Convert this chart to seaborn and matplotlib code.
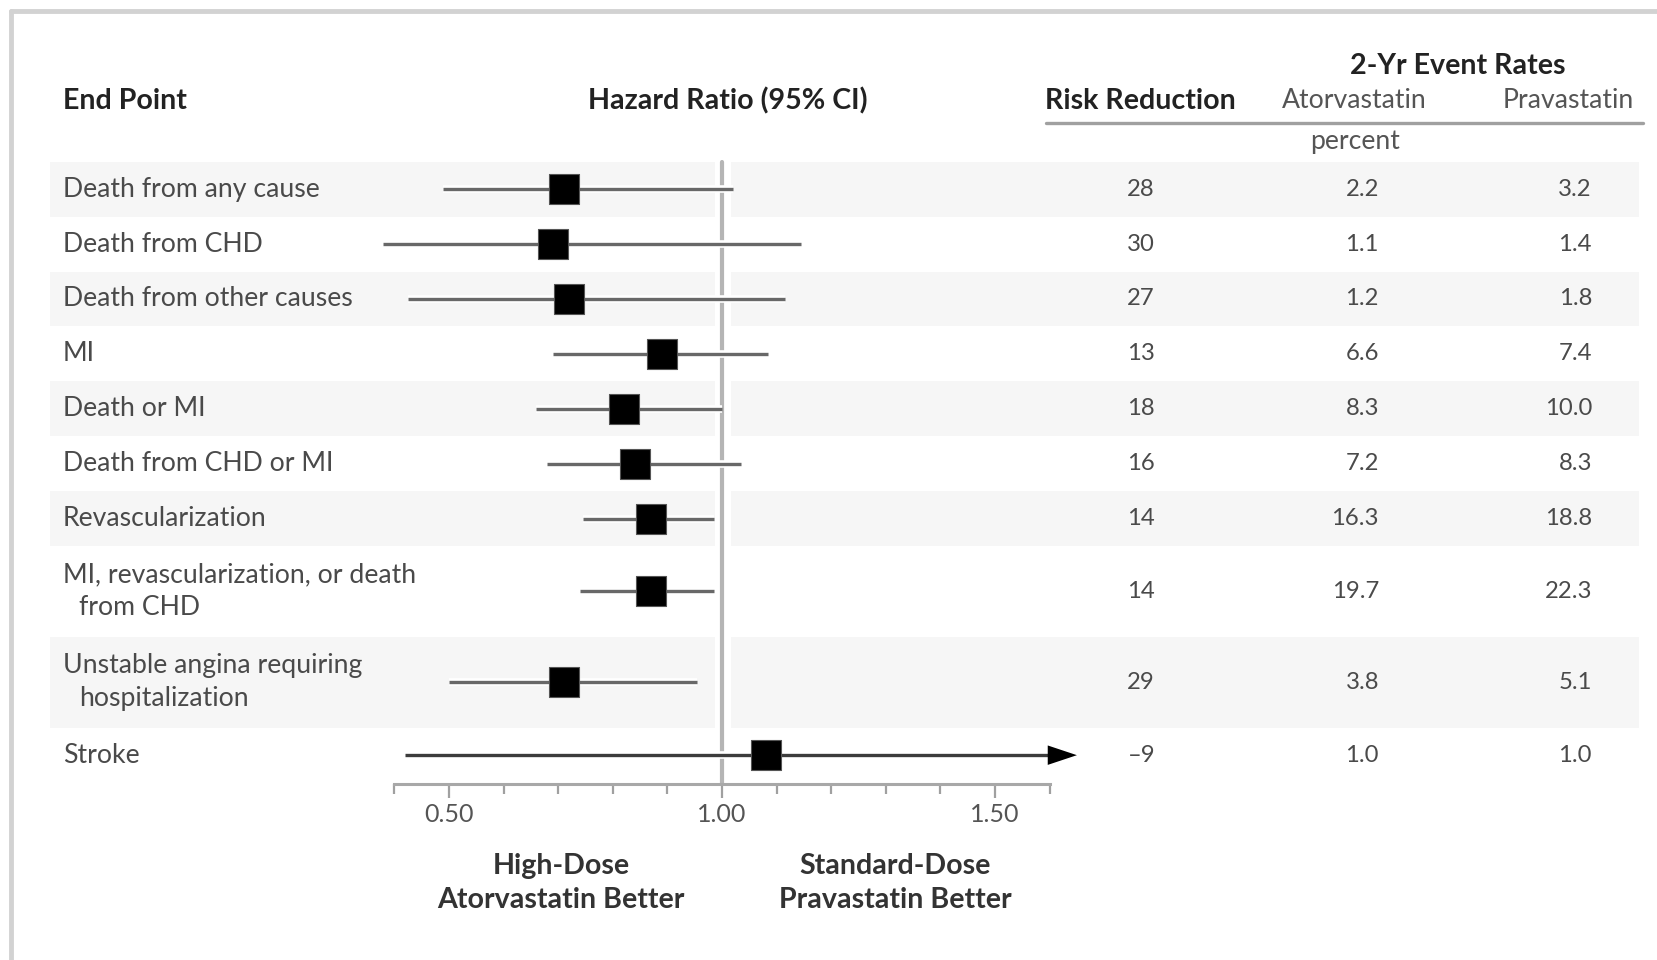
import matplotlib
matplotlib.use("Agg")
import matplotlib.pyplot as plt
import matplotlib.patheffects as pe
from matplotlib.lines import Line2D
from matplotlib.transforms import blended_transform_factory
import numpy as np
import pandas as pd
import seaborn as sns

# ---- data -----------------------------------------------------------------
end_points = [
    "Death from any cause",
    "Death from CHD",
    "Death from other causes",
    "MI",
    "Death or MI",
    "Death from CHD or MI",
    "Revascularization",
    "MI, revascularization, or death\nfrom CHD",
    "Unstable angina requiring\nhospitalization",
    "Stroke",
]
hazard_ratio = [0.71, 0.69, 0.72, 0.89, 0.82, 0.84, 0.87, 0.87, 0.71, 1.08]
ci_lower = [0.49, 0.38, 0.425, 0.69, 0.66, 0.68, 0.745, 0.74, 0.50, 0.42]
ci_upper = [1.02, 1.145, 1.115, 1.085, 1.00, 1.035, 0.985, 0.985, 0.955, 1.65]
risk_reduction = ["28", "30", "27", "13", "18", "16", "14", "14", "29", "\u20139"]
rate_atorvastatin = ["2.2", "1.1", "1.2", "6.6", "8.3", "7.2", "16.3", "19.7", "3.8", "1.0"]
rate_pravastatin = ["3.2", "1.4", "1.8", "7.4", "10.0", "8.3", "18.8", "22.3", "5.1", "1.0"]
row_height = [1, 1, 1, 1, 1, 1, 1, 1.655, 1.655, 1]

# ---- style ----------------------------------------------------------------
sns.set_theme(style="white")
plt.rcParams["font.family"] = ["Lato", "DejaVu Sans"]

W, H = 1657, 960
fig = plt.figure(figsize=(W / 100, H / 100), dpi=100)
fig.patch.set_facecolor("white")

def fx(px):
    return px / W

def fy(px):
    return 1 - px / H

# forest-plot axes (x in hazard-ratio units, y in row units)
ax_left, ax_right, ax_top, ax_bottom = 394.3, 1049.6, 161.7, 784.0
ax = fig.add_axes([fx(ax_left), fy(ax_bottom), fx(ax_right - ax_left), (ax_bottom - ax_top) / H])
ax.set_facecolor("none")

bounds = np.concatenate([[0], np.cumsum(row_height)])
centers = (bounds[:-1] + bounds[1:]) / 2
df = pd.DataFrame({
    "end_point": end_points,
    "hr": hazard_ratio,
    "lo": ci_lower,
    "hi": ci_upper,
    "y": centers,
})

x_min, x_max = 0.4, 1.6
ax.set_xlim(x_min, x_max)
ax.set_ylim(11.335, 0)

# alternating row shading, split around the reference line
def ax_frac(px):
    return (px - ax_left) / (ax_right - ax_left)

for i in range(0, len(end_points), 2):
    for a, b in [(50, 715), (731, 1639)]:
        ax.axhspan(bounds[i], bounds[i + 1], xmin=ax_frac(a), xmax=ax_frac(b),
                   facecolor="#f6f6f6", edgecolor="none", zorder=0, clip_on=False)

# reference line at HR = 1
ax.axvline(1.0, color="#b5b5b5", lw=3.0, zorder=1, clip_on=False)

# confidence intervals
halo = [pe.withStroke(linewidth=5.5, foreground="white")]
inside = df["hi"] <= x_max
ax.hlines(df.loc[inside, "y"], df.loc[inside, "lo"], df.loc[inside, "hi"],
          color="#686868", lw=2.4, zorder=2, path_effects=halo, clip_on=False)
for _, r in df[~inside].iterrows():
    ax.hlines(r["y"], r["lo"], r["hi"] - 0.03, color="#3c3c3c", lw=2.4, zorder=2,
              clip_on=False, path_effects=halo)
    ax.annotate("", xy=(r["hi"], r["y"]), xytext=(r["hi"] - 0.06, r["y"]),
                arrowprops=dict(arrowstyle="-|>,head_length=2.1,head_width=0.7",
                                fc="black", ec="black", lw=0, shrinkA=0, shrinkB=0,
                                mutation_scale=10),
                annotation_clip=False, zorder=3)

# point estimates
sns.scatterplot(data=df, x="hr", y="y", marker="s", s=440, color="black",
                edgecolor="#555555", linewidth=0.8, legend=False, zorder=4, ax=ax)
ax.set_xlabel("")
ax.set_ylabel("")

# x axis
for s in ["top", "right", "left"]:
    ax.spines[s].set_visible(False)
ax.spines["bottom"].set_color("#a8a8a8")
ax.spines["bottom"].set_linewidth(2.2)
ax.set_yticks([])
ax.set_xticks([0.5, 1.0, 1.5])
ax.set_xticklabels(["0.50", "1.00", "1.50"])
ax.set_xticks(np.round(np.arange(0.4, 1.61, 0.1), 2), minor=True)
ax.tick_params(axis="x", which="major", direction="out", length=10, width=1.6,
               color="#a0a0a0", labelsize=18, labelcolor="#555555", pad=4, bottom=True)
ax.tick_params(axis="x", which="minor", direction="out", length=7, width=1.6,
               color="#a0a0a0", bottom=True)

# ---- table text -------------------------------------------------------------
tr = blended_transform_factory(fig.transFigure, ax.transData)
label_color = "#4a4a4a"
fs = 19.2
vfs = 17.2
line_gap = 0.3
for i, label in enumerate(end_points):
    lines = label.split("\n")
    n = len(lines)
    for j, line in enumerate(lines):
        y = centers[i] + (j - (n - 1) / 2) * line_gap * 2
        x = fx(63) if j == 0 else fx(79)
        ax.text(x, y, line, transform=tr, ha="left", va="center",
                fontsize=fs, color=label_color)
    ax.text(fx(1155), centers[i], risk_reduction[i], transform=tr, ha="right",
            va="center", fontsize=vfs, color=label_color)
    ax.text(fx(1379), centers[i], rate_atorvastatin[i], transform=tr, ha="right",
            va="center", fontsize=vfs, color=label_color)
    ax.text(fx(1592), centers[i], rate_pravastatin[i], transform=tr, ha="right",
            va="center", fontsize=vfs, color=label_color)

head_color = "#222222"
hfs = 20.6
fig.text(fx(63), fy(101), "End Point", ha="left", va="center", fontsize=hfs,
         fontweight="bold", color=head_color)
fig.text(fx(728), fy(101), "Hazard Ratio (95% CI)", ha="center", va="center",
         fontsize=hfs, fontweight="bold", color=head_color)
fig.text(fx(1140), fy(101), "Risk Reduction", ha="center", va="center",
         fontsize=hfs, fontweight="bold", color=head_color)
fig.text(fx(1458), fy(66), "2-Yr Event Rates", ha="center", va="center",
         fontsize=hfs, fontweight="bold", color=head_color)
fig.text(fx(1354), fy(101), "Atorvastatin", ha="center", va="center",
         fontsize=fs, color="#555555")
fig.text(fx(1568), fy(101), "Pravastatin", ha="center", va="center",
         fontsize=fs, color="#555555")
fig.text(fx(1355), fy(142), "percent", ha="center", va="center",
         fontsize=fs, color="#555555")
fig.add_artist(Line2D([fx(1046), fx(1643)], [fy(123), fy(123)],
                      color="#a0a0a0", lw=2.4))

fig.text(fx(561), fy(883), "High-Dose\nAtorvastatin Better", ha="center",
         va="center", fontsize=hfs, fontweight="bold", color="#333333",
         linespacing=1.38)
fig.text(fx(895), fy(883), "Standard-Dose\nPravastatin Better", ha="center",
         va="center", fontsize=hfs, fontweight="bold", color="#333333",
         linespacing=1.38)

# panel frame (top and left edges)
fig.add_artist(Line2D([fx(11), 1.0], [fy(11), fy(11)], color="#d2d2d2", lw=3.5))
fig.add_artist(Line2D([fx(11), fx(11)], [fy(11), 0.0], color="#d2d2d2", lw=3.5))

fig.savefig("out.png", dpi=100, facecolor="white")
